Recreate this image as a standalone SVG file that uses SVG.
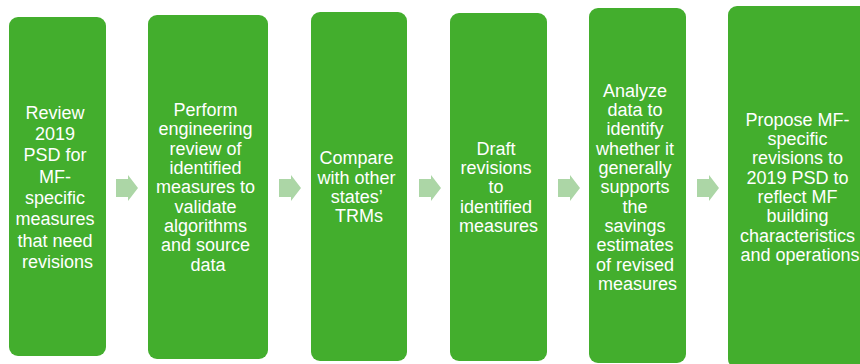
<svg xmlns="http://www.w3.org/2000/svg" width="860" height="364" viewBox="0 0 860 364">
  <defs>
    <style>
      .step { fill: #43AE2D; }
      .arrow { fill: #ACD6A6; }
      .label { font-family: "Liberation Sans", Arial, sans-serif; font-size: 18px; fill: #FFFFFF; text-anchor: middle; }
    </style>
    <path id="chevron" d="M0,4 H12 V0 L22,13 L12,26 V22 H0 Z"/>
  </defs>
  <rect width="860" height="364" fill="#FFFFFF"/>

  <!-- connectors between the steps -->
  <g id="connectors">
    <use href="#chevron" class="arrow" x="116" y="175"/>
    <use href="#chevron" class="arrow" x="279" y="175"/>
    <use href="#chevron" class="arrow" x="419" y="175"/>
    <use href="#chevron" class="arrow" x="558" y="175"/>
    <use href="#chevron" class="arrow" x="697" y="175"/>
  </g>

  <g id="step1">
    <rect class="step" x="9" y="17" width="97" height="339" rx="9"/>
    <text class="label">
      <tspan x="57.5" y="118.8">Review</tspan>
      <tspan x="57.5" y="140.1">2019</tspan>
      <tspan x="57.5" y="161.4">PSD for</tspan>
      <tspan x="57.5" y="182.7">MF-</tspan>
      <tspan x="57.5" y="204">specific</tspan>
      <tspan x="57.5" y="225.3">measures</tspan>
      <tspan x="57.5" y="246.6">that need</tspan>
      <tspan x="57.5" y="267.9">revisions</tspan>
    </text>
  </g>

  <g id="step2">
    <rect class="step" x="148" y="15" width="120" height="344" rx="9"/>
    <text class="label">
      <tspan x="208" y="116.1">Perform</tspan>
      <tspan x="208" y="135.4">engineering</tspan>
      <tspan x="208" y="154.7">review of</tspan>
      <tspan x="208" y="174">identified</tspan>
      <tspan x="208" y="193.3">measures to</tspan>
      <tspan x="208" y="212.6">validate</tspan>
      <tspan x="208" y="231.9">algorithms</tspan>
      <tspan x="208" y="251.2">and source</tspan>
      <tspan x="208" y="270.5">data</tspan>
    </text>
  </g>

  <g id="step3">
    <rect class="step" x="311" y="12" width="96" height="349" rx="9"/>
    <text class="label">
      <tspan x="359" y="164.4">Compare</tspan>
      <tspan x="359" y="183.7">with other</tspan>
      <tspan x="359" y="203">states’</tspan>
      <tspan x="359" y="222.3">TRMs</tspan>
    </text>
  </g>

  <g id="step4">
    <rect class="step" x="450" y="13" width="97" height="348" rx="9"/>
    <text class="label">
      <tspan x="498.5" y="154.7">Draft</tspan>
      <tspan x="498.5" y="174">revisions</tspan>
      <tspan x="498.5" y="193.3">to</tspan>
      <tspan x="498.5" y="212.6">identified</tspan>
      <tspan x="498.5" y="231.9">measures</tspan>
    </text>
  </g>

  <g id="step5">
    <rect class="step" x="589" y="8" width="97" height="355" rx="9"/>
    <text class="label">
      <tspan x="637.5" y="96.8">Analyze</tspan>
      <tspan x="637.5" y="116.1">data to</tspan>
      <tspan x="637.5" y="135.4">identify</tspan>
      <tspan x="637.5" y="154.7">whether it</tspan>
      <tspan x="637.5" y="174">generally</tspan>
      <tspan x="637.5" y="193.3">supports</tspan>
      <tspan x="637.5" y="212.6">the</tspan>
      <tspan x="637.5" y="231.9">savings</tspan>
      <tspan x="637.5" y="251.2">estimates</tspan>
      <tspan x="637.5" y="270.5">of revised</tspan>
      <tspan x="637.5" y="289.8">measures</tspan>
    </text>
  </g>

  <g id="step6">
    <rect class="step" x="728" y="6" width="144" height="362" rx="9"/>
    <text class="label">
      <tspan x="800" y="125.8">Propose MF-</tspan>
      <tspan x="800" y="145.1">specific</tspan>
      <tspan x="800" y="164.4">revisions to</tspan>
      <tspan x="800" y="183.7">2019 PSD to</tspan>
      <tspan x="800" y="203">reflect MF</tspan>
      <tspan x="800" y="222.3">building</tspan>
      <tspan x="800" y="241.6">characteristics</tspan>
      <tspan x="800" y="260.9">and operations</tspan>
    </text>
  </g>
</svg>
